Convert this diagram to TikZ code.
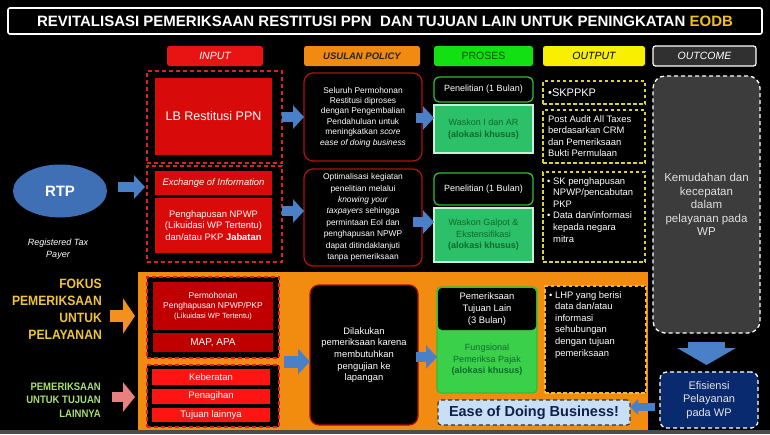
\documentclass[tikz,border=0pt]{standalone}
\usepackage{fontspec}
\setmainfont{Liberation Sans}
\newfontfamily\narrowfont[FakeStretch=0.9]{Liberation Sans}
\newfontfamily\narrowfontb[FakeStretch=0.88]{Liberation Sans}
\usetikzlibrary{arrows.meta,shapes.geometric,calc}
\definecolor{eodb}{HTML}{F0C020}
\definecolor{hred}{HTML}{E81414}
\definecolor{horange}{HTML}{F08A10}
\definecolor{hgreen}{HTML}{12E012}
\definecolor{hyellow}{HTML}{F8F000}
\definecolor{hgray}{HTML}{303030}
\definecolor{lbred}{HTML}{D80A0A}
\definecolor{dred}{HTML}{E02020}
\definecolor{polred}{HTML}{B01010}
\definecolor{prgreen}{HTML}{30C030}
\definecolor{wgreen}{HTML}{2CC068}
\definecolor{wtext}{HTML}{0F6A30}
\definecolor{oyellow}{HTML}{D8D040}
\definecolor{outgray}{HTML}{3C3C3C}
\definecolor{navy}{HTML}{0A2A70}
\definecolor{arrblue}{HTML}{4A80C8}
\definecolor{panel}{HTML}{F28C10}
\definecolor{darkred}{HTML}{C00000}
\definecolor{brightred}{HTML}{FF1414}
\definecolor{easefill}{HTML}{C8DFF5}
\definecolor{easetext}{HTML}{10204A}
\definecolor{fokus}{HTML}{F0C43A}
\definecolor{lgreen}{HTML}{A8E070}
\definecolor{pinkarr}{HTML}{E88080}
\definecolor{orarr}{HTML}{F39020}
\definecolor{fgreen}{HTML}{3BD04A}
\definecolor{rtpblue}{HTML}{3F6FB5}
\tikzset{
  area/.style args={#1,#2,#3,#4}{at={({(#1+#3)/2},{(#2+#4)/2})}, minimum width={#3-#1}, minimum height={#4-#2}, inner sep=0pt, outer sep=0pt},
  fs/.style 2 args={font=\fontsize{#1}{#2}\selectfont},
  hdr/.style={rounded corners=2.5pt},
  redbox/.style={fill=lbred, text=white, align=center},
  dashred/.style={draw=dred, line width=1.3pt, dash pattern=on 4pt off 3pt},
  polbox/.style={fill=black, draw=polred, line width=1.3pt, rounded corners=9pt, text=white, align=center},
  prblack/.style={fill=black, draw=prgreen, line width=1.3pt, rounded corners=5pt, text=white, align=center},
  prgbox/.style={fill=wgreen, draw=white!75!wgreen, line width=1.2pt, text=wtext, align=center},
  outbox/.style={fill=black, draw=oyellow, line width=1.2pt, dash pattern=on 3.5pt off 2.5pt, text=white},
  blk/.style={draw=arrblue, line width=10pt, -{Triangle[width=23pt,length=11pt,fill=arrblue]}},
}
\begin{document}
\begin{tikzpicture}[x=1pt,y=-1pt]
\fill[black] (0,0) rectangle (770,434);
\useasboundingbox (0,0) rectangle (770,434);
\fill[black!70] (0,430) rectangle (770,434);

% title
\node[area={8,8,762,34}, draw=white, line width=1.6pt, rounded corners=2pt, text=white, font=\bfseries\fontsize{15}{16}\selectfont] (title)
  {REVITALISASI PEMERIKSAAN RESTITUSI PPN\ \ DAN TUJUAN LAIN UNTUK PENINGKATAN \textcolor{eodb}{EODB}};

% column headers
\node[hdr, area={167,46,263,66}, fill=hred, text=white, font=\itshape\fontsize{10.5}{12}\selectfont] (hin) {INPUT};
\node[hdr, area={304,46,420,66}, fill=horange, text=black!85, font=\bfseries\itshape\fontsize{9.5}{12}\selectfont] (hpol) {USULAN POLICY};
\node[hdr, area={434,46,533,66}, fill=hgreen, text=black!70!green, font=\fontsize{10.5}{12}\selectfont] (hpr) {PROSES};
\node[hdr, area={543,46,645,66}, fill=hyellow, text=black, font=\itshape\fontsize{10.5}{12}\selectfont] (hout) {OUTPUT};
\node[hdr, area={653,46,756,66}, fill=hgray, draw=white, line width=1.2pt, text=white, font=\itshape\fontsize{10.5}{12}\selectfont] (hoc) {OUTCOME};

% row 1
\node[dashred, area={147,71,282,163}] (in1) {};
\node[redbox, area={155,78,272,155}, fs={12.5}{14}] (lb) {LB Restitusi PPN};
\node[polbox, area={304,73,422,161}, fs={8.4}{10.4}] (pol1)
  {Seluruh Permohonan\\Restitusi diproses\\dengan Pengembalian\\Pendahuluan untuk\\meningkatkan \textit{score}\\\textit{ease of doing business}};
\node[prblack, area={434,77,533,102}, fs={9}{11}] (pr1a) {Penelitian (1 Bulan)};
\node[prgbox, area={434,105,533,153}, fs={9}{11.5}] (pr1b) {Waskon I dan AR\\\textbf{(alokasi khusus)}};
\node[outbox, area={543,81,645,104}] (out1) {};
\node[anchor=west, text=white, fs={11}{13}, inner sep=0pt] (out1t) at ($(out1.west)+(5,0)$) {\textbullet SKPPKP};
\node[outbox, area={543,110,645,163}] (out2) {};
\node[anchor=north west, text=white, align=left, fs={9.4}{11.6}, inner sep=0pt] (out2t) at ($(out2.north west)+(5,5)$)
  {Post Audit All Taxes\\berdasarkan CRM\\dan Pemeriksaan\\Bukti Permulaan};

% outcome
\node[area={653,76,760,333}, fill=outgray, draw=white, line width=1.3pt, dash pattern=on 4pt off 3pt, rounded corners=12pt, text=white!88!black, align=center, fs={11.5}{13.6}] (oc)
  {Kemudahan dan\\kecepatan\\dalam\\pelayanan pada\\WP};

% RTP
\node[ellipse, fill=rtpblue, minimum width=94pt, minimum height=53pt, inner sep=0pt, text=white, font=\bfseries\fontsize{15}{16}\selectfont] (rtp) at (60,191) {RTP};
\node[text=white, align=center, font=\itshape\fontsize{9}{12}\selectfont, inner sep=0pt] (rtpl) at (58,249) {Registered Tax\\Payer};

% row 2
\node[dashred, area={147,166,282,262}] (in2) {};
\node[redbox, area={155,171,272,195}, font=\itshape\fontsize{9.4}{11}\selectfont] (eoi) {Exchange of Information};
\node[redbox, area={155,198,272,253}, fs={9.4}{11.8}] (hap) {Penghapusan NPWP\\(Likuidasi WP Tertentu)\\dan/atau PKP \textbf{Jabatan}};
\node[polbox, area={304,169,422,266}, fs={8.4}{11.4}] (pol2)
  {Optimalisasi kegiatan\\penelitian melalui\\\textit{knowing your}\\\textit{taxpayers} sehingga\\permintaan EoI dan\\penghapusan NPWP\\dapat ditindaklanjuti\\tanpa pemeriksaan};
\node[prblack, area={434,173,533,205}, fs={9}{11}] (pr2a) {Penelitian (1 Bulan)};
\node[prgbox, area={434,208,533,262}, fs={9}{11.5}] (pr2b) {Waskon Galpot \&\\Ekstensifikasi\\\textbf{(alokasi khusus)}};
\node[outbox, area={543,172,645,262}] (out3) {};
\node[anchor=north west, text=white, align=left, fs={9.4}{11.6}, inner sep=0pt] (out3t) at ($(out3.north west)+(4,5)$)
  {\textbullet\ SK penghapusan\\\hspace*{6pt}NPWP/pencabutan\\\hspace*{6pt}PKP\\\textbullet\ Data dan/informasi\\\hspace*{6pt}kepada negara\\\hspace*{6pt}mitra};

% orange panel
\fill[panel] (138,272) rectangle (648,430);

% left labels
\node[anchor=east, align=right, text=fokus, font=\narrowfont\bfseries\fontsize{13.5}{17}\selectfont, inner sep=0pt] (fok) at (102,309)
  {FOKUS\\PEMERIKSAAN\\UNTUK\\PELAYANAN};
\node[anchor=east, align=right, text=lgreen, font=\narrowfontb\bfseries\fontsize{10.8}{13.5}\selectfont, inner sep=0pt] (lain) at (101,400)
  {PEMERIKSAAN\\UNTUK TUJUAN\\LAINNYA};

% bottom input
\node[dashred, fill=black, area={147,277,279,358}] (in3) {};
\node[redbox, fill=darkred, area={153,282,273,330}, fs={8.5}{10.2}] (perm) {Permohonan\\Penghapusan NPWP/PKP\\{\fontsize{7.5}{10}\selectfont(Likuidasi WP Tertentu)}};
\node[redbox, fill=darkred, area={153,333,273,352}, fs={10}{12}] (map) {MAP, APA};
\node[dashred, fill=black, area={147,365,279,427}] (in4) {};
\node[redbox, fill=brightred, area={152,369,270,385}, fs={9.5}{11}] (keb) {Keberatan};
\node[redbox, fill=brightred, area={152,389,270,404}, fs={9.5}{11}] (pen) {Penagihan};
\node[redbox, fill=brightred, area={152,408,270,422}, fs={9.5}{11}] (tuj) {Tujuan lainnya};

\node[polbox, area={310,285,418,425}, fs={9.4}{11.7}] (pol3)
  {Dilakukan\\pemeriksaan karena\\membutuhkan\\pengujian ke\\lapangan};
\node[fill=fgreen, draw=prgreen, line width=1.3pt, rounded corners=4pt, area={437,287,537,393}] (pr3) {};
\node[fill=black, rounded corners=4pt, area={438,288,536,330}, text=white, align=center, fs={9.4}{11.8}] (pr3a)
  {Pemeriksaan\\Tujuan Lain\\(3 Bulan)};
\node[text=wtext, align=center, fs={9}{11.5}, inner sep=0pt] (pr3b) at (487,360) {Fungsional\\Pemeriksa Pajak\\\textbf{(alokasi khusus)}};
\node[outbox, draw=eodb, area={545,286,646,393}] (out4) {};
\node[anchor=north west, text=white, align=left, fs={9.4}{11.6}, inner sep=0pt] (out4t) at ($(out4.north west)+(4,5)$)
  {\textbullet\ LHP yang berisi\\\hspace*{6pt}data dan/atau\\\hspace*{6pt}informasi\\\hspace*{6pt}sehubungan\\\hspace*{6pt}dengan tujuan\\\hspace*{6pt}pemeriksaan};

\node[area={438,400,630,425}, fill=easefill, draw=black!80, line width=1.1pt, dash pattern=on 4pt off 3pt, rounded corners=3pt, text=easetext, font=\bfseries\fontsize{14.5}{16}\selectfont] (ease) {Ease of Doing Business!};

\node[area={660,372,758,428}, fill=navy, draw=white, line width=1.3pt, dash pattern=on 4pt off 3pt, rounded corners=7pt, text=white!90!black, align=center, fs={11}{13.5}] (efi)
  {Efisiensi\\Pelayanan\\pada WP};

% connectors (block arrows)
\draw[blk] (in1.east) -- (in1.east -| pol1.west);
\draw[blk, shorten <=-6pt] ([yshift=-1pt]pol1.east) -- ([yshift=-1pt]pol1.east -| pr1b.west);
\draw[blk, shorten <=11pt, shorten >=2pt] ([yshift=4pt]rtp.east) -- ([yshift=4pt]rtp.east -| in2.west);
\draw[blk] ([yshift=3pt]in2.east) -- ([yshift=3pt]in2.east -| pol2.west);
\draw[blk, shorten <=-9pt] ([yshift=-4.5pt]pol2.east) -- ([yshift=-4.5pt]pol2.east -| pr2b.west);
\coordinate (mid34) at ($(in3.south east)!0.5!(in4.north east)$);
\draw[blk, line width=12pt, -{Triangle[width=25pt,length=12pt,fill=arrblue]}, shorten <=5pt] (mid34) -- (mid34 -| pol3.west);
\draw[blk, shorten <=-2pt] ([yshift=-2pt]pol3.east) -- ([yshift=-2pt]pol3.east -| pr3.west);
\draw[draw=arrblue, line width=37pt, -{Triangle[width=58pt,length=17pt,fill=arrblue]}, shorten <=9pt, shorten >=7pt] (oc.south) -- (oc.south |- efi.north);
\draw[draw=arrblue, line width=8pt, -{Triangle[width=15pt,length=8pt,fill=arrblue]}, shorten <=5pt] ([yshift=-7pt]efi.west) -- ([yshift=-7pt]efi.west -| ease.east);
\draw[draw=orarr, line width=12pt, -{Triangle[width=35pt,length=12pt,fill=orarr]}, shorten <=8pt, shorten >=12pt] ([yshift=-7pt]fok.east) -- ([yshift=-7pt]fok.east -| in3.west);
\draw[draw=pinkarr, line width=10pt, -{Triangle[width=29pt,length=12pt,fill=pinkarr]}, shorten <=11pt, shorten >=12pt] ([yshift=3pt]lain.east) -- ([yshift=3pt]lain.east -| in4.west);
\end{tikzpicture}
\end{document}
